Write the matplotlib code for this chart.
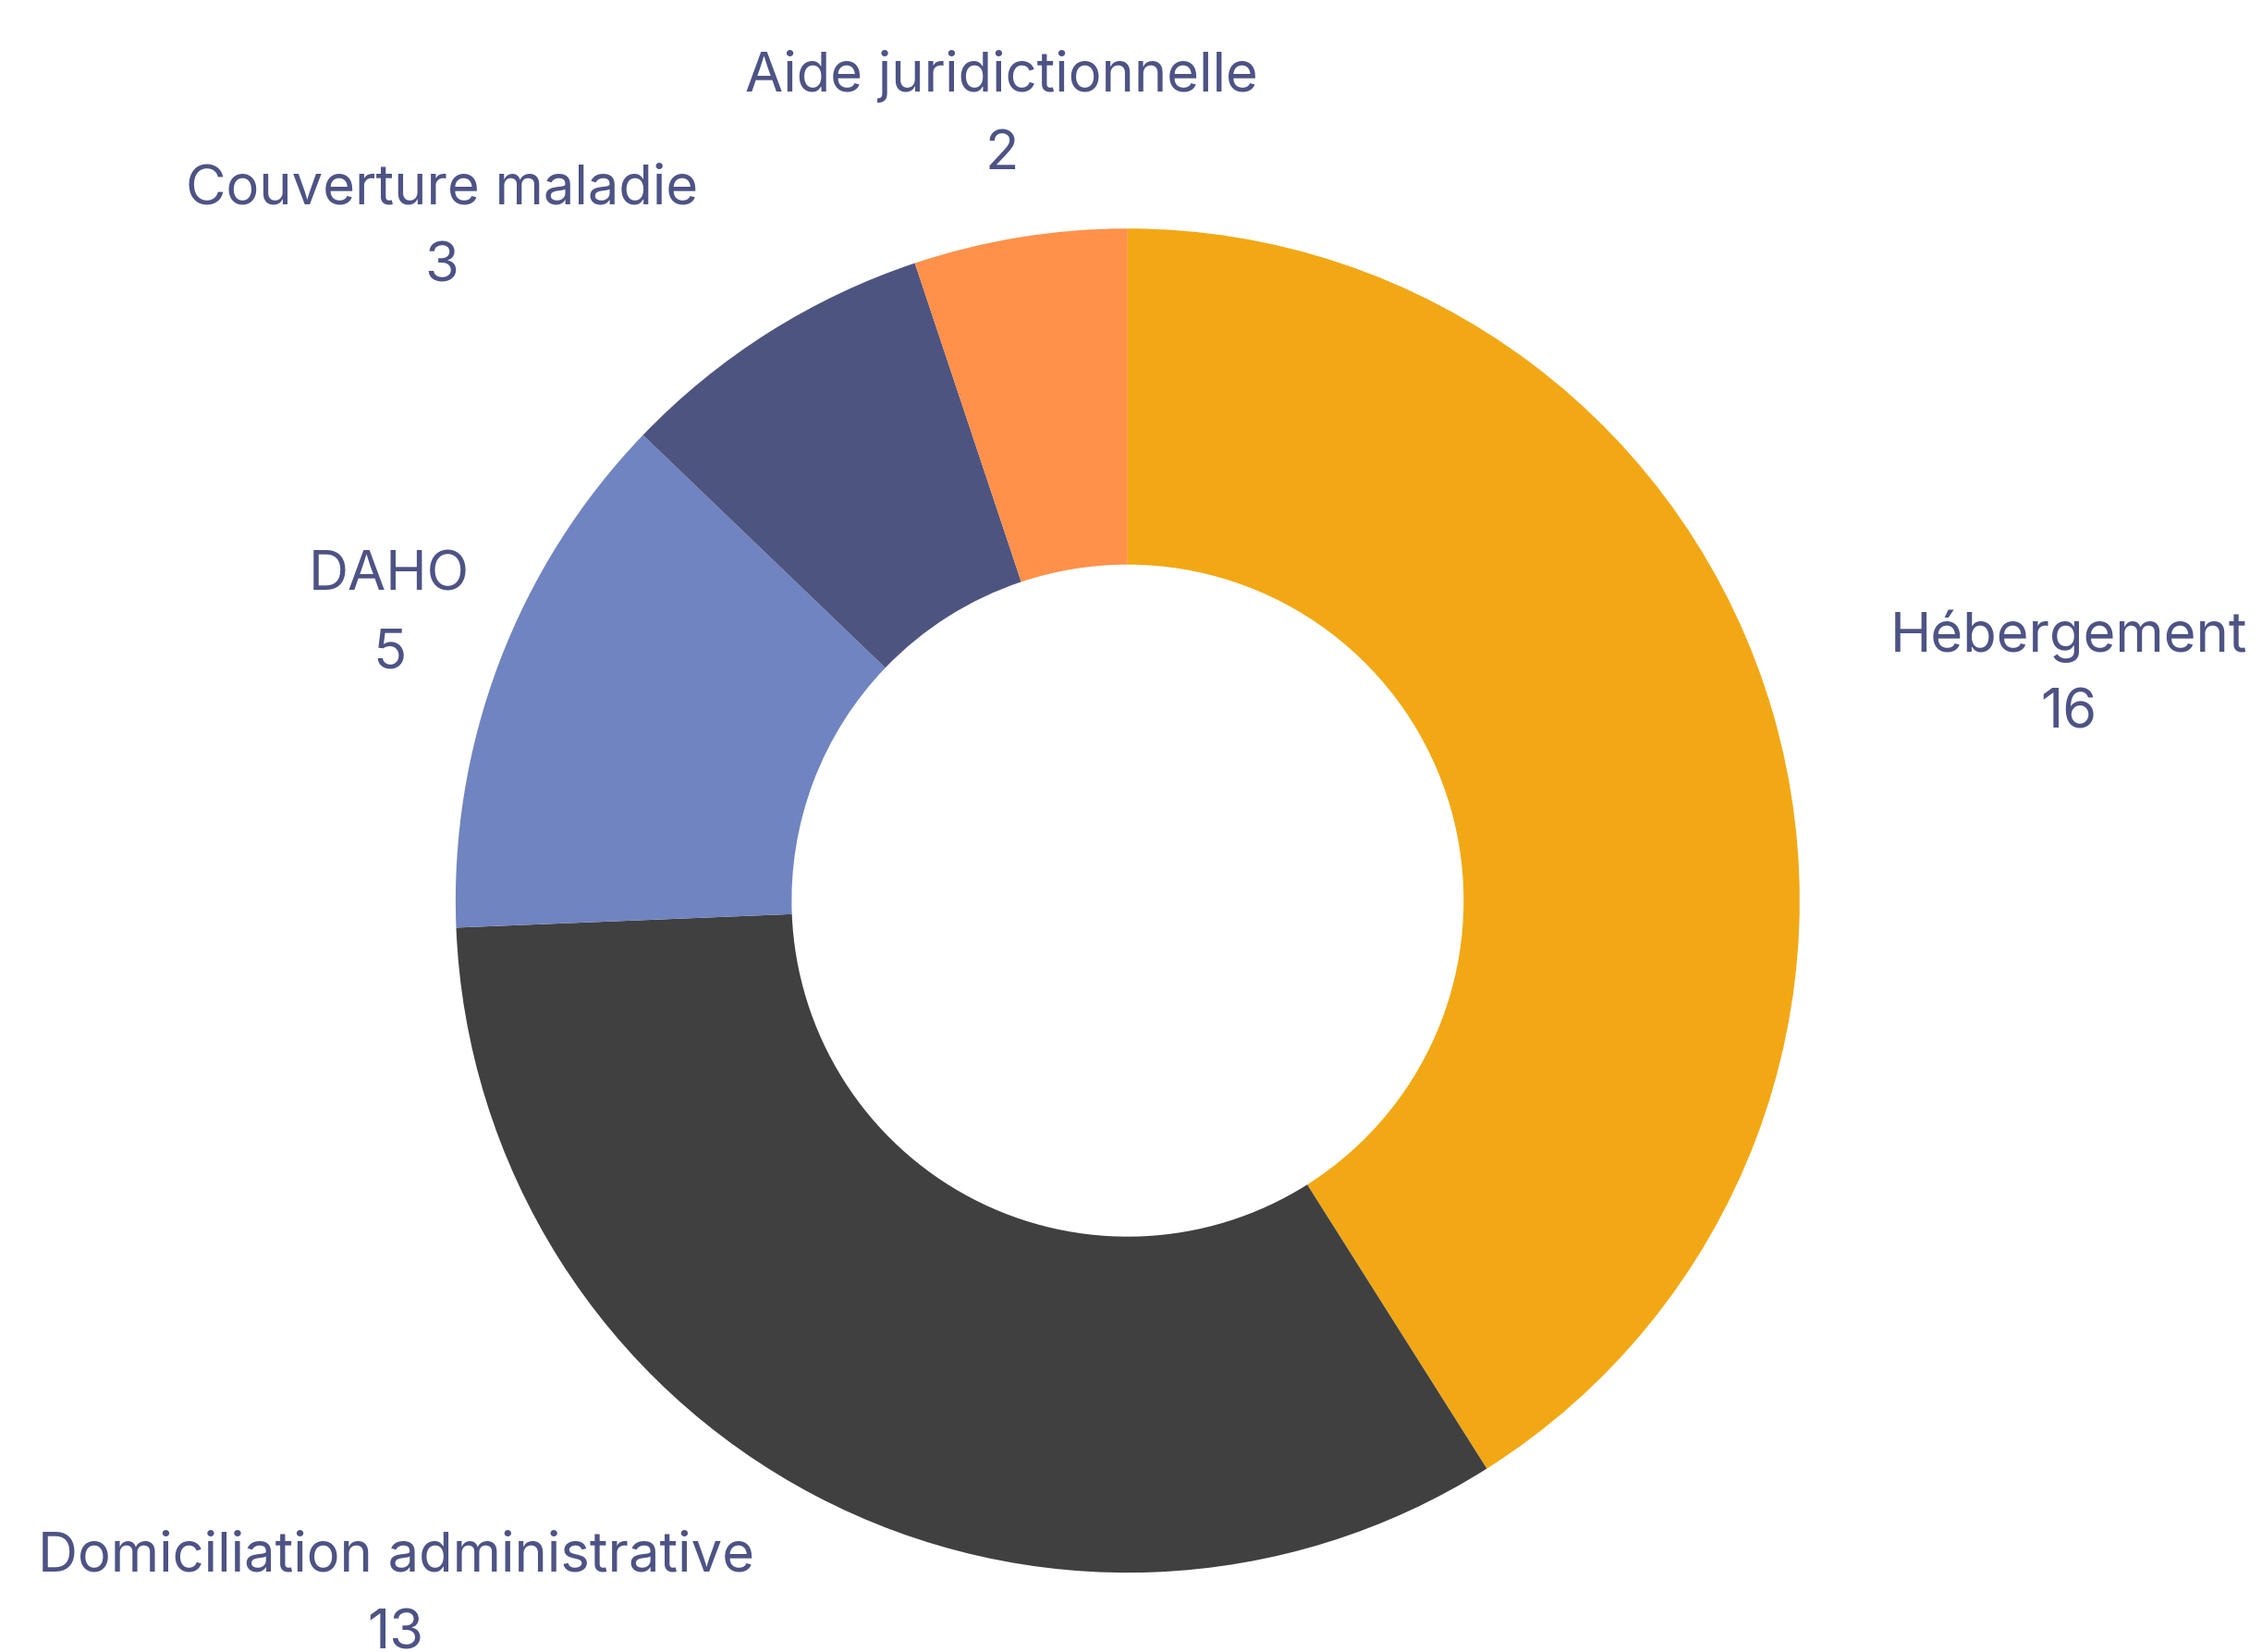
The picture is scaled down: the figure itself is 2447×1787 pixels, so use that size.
import matplotlib.pyplot as plt

# donut data
labels = ["Hébergement", "Domiciliation administrative", "DAHO", "Couverture maladie", "Aide juridictionnelle"]
values = [16, 13, 5, 3, 2]
colors = ["#F2A814", "#404040", "#6F84C0", "#4E5480", "#FF914A"]

# label anchors (in units of the outer radius)
label_pos = [(1.40, 0.336), (-1.089, -1.034), (-1.099, 0.425), (-1.021, 1.0), (-0.188, 1.168)]

text_color = "#4D5385"
plt.rcParams["font.family"] = ["Inter", "DejaVu Sans"]

fig = plt.figure(figsize=(24.47, 17.87), dpi=100)
ax = fig.add_axes([0, 0, 1, 1])

ax.pie(values, colors=colors, startangle=90, counterclock=False, radius=1.0,
       wedgeprops=dict(width=0.5, linewidth=0))

for name, v, (x, y) in zip(labels, values, label_pos):
    ax.text(x, y + 0.058, name, ha="center", va="center", fontsize=43,
            color=text_color, fontweight="normal")
    ax.text(x, y - 0.058, str(v), ha="center", va="center", fontsize=43,
            color=text_color, fontweight="normal")

ax.set_xlim(-1.678, 1.688)
ax.set_ylim(-1.118, 1.340)
ax.set_aspect("equal")
ax.axis("off")

fig.savefig("out.png", dpi=100, facecolor="white")
